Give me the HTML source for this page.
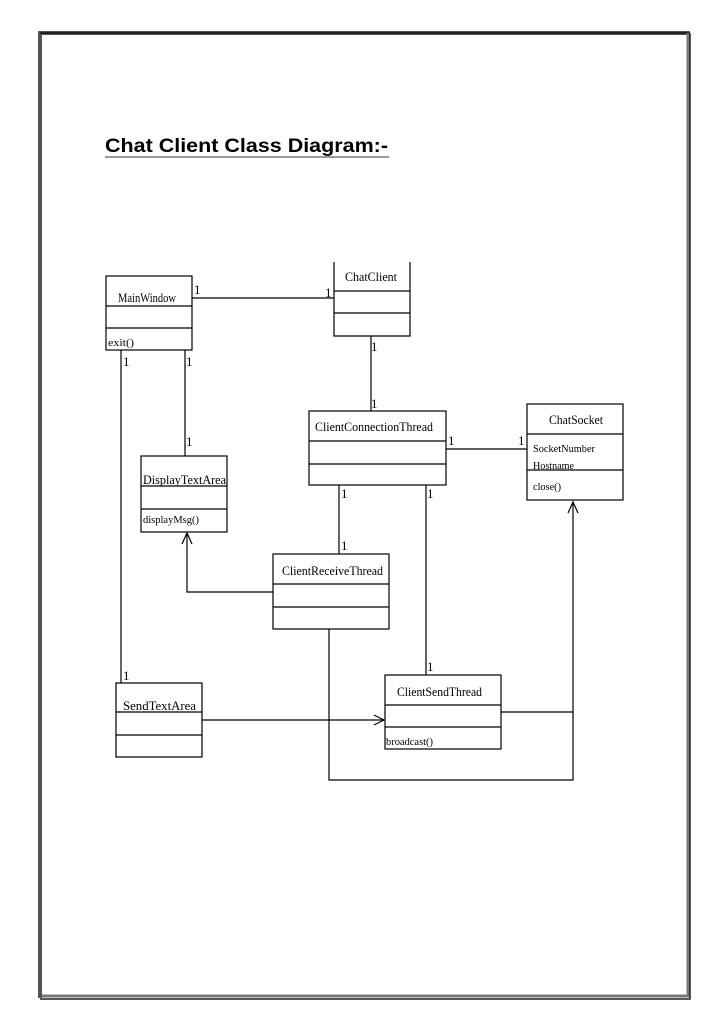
<!DOCTYPE html>
<html><head><meta charset="utf-8"><style>
html,body{margin:0;padding:0;background:#fff;}
body{width:728px;height:1030px;position:relative;overflow:hidden;}
</style></head><body>
<svg width="728" height="1030" viewBox="0 0 728 1030" xmlns="http://www.w3.org/2000/svg" style="position:absolute;left:0;top:0">
<path d="M40 998 L40 33 L690 33" fill="none" stroke="#555" stroke-width="4"/>
<path d="M40 33 L690 33" stroke="#222" stroke-width="2"/>
<path d="M42 996 L688 996 L688 33" fill="none" stroke="#777" stroke-width="3"/>
<path d="M40 999 L690 999 L690 33" fill="none" stroke="#222" stroke-width="1.5"/>
<text x="105" y="152" font-family="Liberation Sans, sans-serif" font-weight="bold" font-size="19.5" fill="#000" textLength="283" lengthAdjust="spacingAndGlyphs">Chat Client Class Diagram:-</text>
<line x1="105" y1="157" x2="389" y2="157" stroke="#333" stroke-width="1"/>
<g fill="none" stroke="#000" stroke-width="1.2">
<rect x="106" y="276" width="86" height="74"/><line x1="106" y1="306" x2="192" y2="306"/><line x1="106" y1="328" x2="192" y2="328"/>
<path d="M334 262 L334 336 L410 336 L410 262"/><line x1="334" y1="291" x2="410" y2="291"/><line x1="334" y1="313" x2="410" y2="313"/>
<rect x="309" y="411" width="137" height="74"/><line x1="309" y1="441" x2="446" y2="441"/><line x1="309" y1="464" x2="446" y2="464"/>
<rect x="527" y="404" width="96" height="96"/><line x1="527" y1="434" x2="623" y2="434"/><line x1="527" y1="470" x2="623" y2="470"/>
<rect x="141" y="456" width="86" height="76"/><line x1="141" y1="486" x2="227" y2="486"/><line x1="141" y1="509" x2="227" y2="509"/>
<rect x="273" y="554" width="116" height="75"/><line x1="273" y1="584" x2="389" y2="584"/><line x1="273" y1="607" x2="389" y2="607"/>
<rect x="385" y="675" width="116" height="74"/><line x1="385" y1="705" x2="501" y2="705"/><line x1="385" y1="727" x2="501" y2="727"/>
<rect x="116" y="683" width="86" height="74"/><line x1="116" y1="712" x2="202" y2="712"/><line x1="116" y1="735" x2="202" y2="735"/>
<line x1="192" y1="298" x2="334" y2="298"/>
<line x1="371" y1="336" x2="371" y2="411"/>
<line x1="446" y1="449" x2="527" y2="449"/>
<line x1="121" y1="350" x2="121" y2="683"/>
<line x1="185" y1="350" x2="185" y2="456"/>
<path d="M273 592 L187 592 L187 533"/><path d="M182 544 L187 533 L192 544"/>
<line x1="339" y1="485" x2="339" y2="554"/>
<line x1="426" y1="485" x2="426" y2="675"/>
<line x1="202" y1="720" x2="384" y2="720"/><path d="M374 715 L384 720 L374 725"/>
<path d="M501 712 L573 712 L573 502"/><path d="M568 513 L573 502 L578 513"/>
<path d="M329 629 L329 780 L573 780 L573 712"/>
</g>
<g font-family="Liberation Serif, serif" font-size="13" fill="#000" lengthAdjust="spacingAndGlyphs">
<text x="118" y="302" textLength="58" lengthAdjust="spacingAndGlyphs">MainWindow</text>
<text x="345" y="281" textLength="52" lengthAdjust="spacingAndGlyphs">ChatClient</text>
<text x="315" y="431" textLength="118" lengthAdjust="spacingAndGlyphs">ClientConnectionThread</text>
<text x="549" y="424" textLength="54" lengthAdjust="spacingAndGlyphs">ChatSocket</text>
<text x="143" y="484" textLength="83" lengthAdjust="spacingAndGlyphs">DisplayTextArea</text>
<text x="282" y="575" textLength="101" lengthAdjust="spacingAndGlyphs">ClientReceiveThread</text>
<text x="397" y="696" textLength="85" lengthAdjust="spacingAndGlyphs">ClientSendThread</text>
<text x="123" y="710" textLength="73" lengthAdjust="spacingAndGlyphs">SendTextArea</text>
<text x="194" y="294">1</text><text x="325" y="297">1</text>
<text x="371" y="351">1</text><text x="371" y="408">1</text>
<text x="448" y="445">1</text><text x="518" y="445">1</text>
<text x="123" y="366">1</text><text x="186" y="366">1</text>
<text x="186" y="446">1</text>
<text x="341" y="498">1</text><text x="341" y="550">1</text>
<text x="427" y="498">1</text><text x="427" y="671">1</text>
<text x="123" y="680">1</text>
</g>
<g font-family="Liberation Serif, serif" font-size="10.5" fill="#000">
<text x="108" y="346" textLength="26" lengthAdjust="spacingAndGlyphs">exit()</text>
<text x="143" y="523" textLength="56" lengthAdjust="spacingAndGlyphs">displayMsg()</text>
<text x="533" y="452" textLength="62" lengthAdjust="spacingAndGlyphs">SocketNumber</text>
<text x="533" y="469" textLength="41" lengthAdjust="spacingAndGlyphs">Hostname</text>
<text x="533" y="490" textLength="28" lengthAdjust="spacingAndGlyphs">close()</text>
<text x="386" y="745" textLength="47" lengthAdjust="spacingAndGlyphs">broadcast()</text>
</g>
</svg>
</body></html>
